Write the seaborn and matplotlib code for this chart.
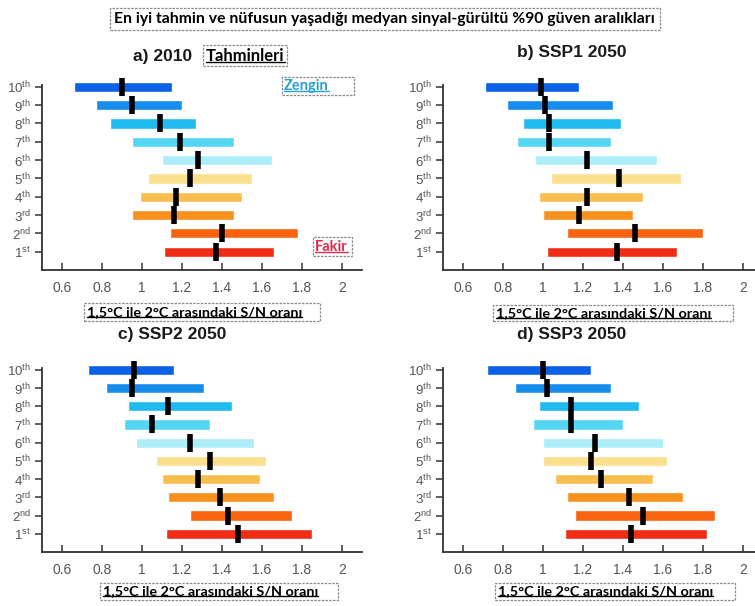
import numpy as np
import pandas as pd
import seaborn as sns
import matplotlib.pyplot as plt
from matplotlib.patches import Rectangle
from matplotlib.lines import Line2D

# deciles, poorest (1st) to richest (10th)
deciles = ['1st', '2nd', '3rd', '4th', '5th', '6th', '7th', '8th', '9th', '10th']
tick_labels = [r'$\mathregular{1^{st}}$', r'$\mathregular{2^{nd}}$', r'$\mathregular{3^{rd}}$',
               r'$\mathregular{4^{th}}$', r'$\mathregular{5^{th}}$', r'$\mathregular{6^{th}}$',
               r'$\mathregular{7^{th}}$', r'$\mathregular{8^{th}}$', r'$\mathregular{9^{th}}$',
               r'$\mathregular{10^{th}}$']
decile_colors = ['#f02c14', '#f8640f', '#f8901e', '#f8be50', '#fadf8c',
                 '#aeeefa', '#55d6f4', '#1fbaf0', '#168ded', '#0a60e6']

panel_titles = ['a) 2010', 'b) SSP1 2050', 'c) SSP2 2050', 'd) SSP3 2050']

low_2010 = [1.11, 1.14, 0.95, 0.99, 1.03, 1.10, 0.95, 0.84, 0.77, 0.66]
high_2010 = [1.66, 1.78, 1.46, 1.50, 1.55, 1.65, 1.46, 1.27, 1.20, 1.15]
med_2010 = [1.37, 1.40, 1.16, 1.17, 1.24, 1.28, 1.19, 1.09, 0.95, 0.90]

low_ssp1 = [1.02, 1.12, 1.00, 0.98, 1.04, 0.96, 0.87, 0.90, 0.82, 0.71]
high_ssp1 = [1.67, 1.80, 1.45, 1.50, 1.69, 1.57, 1.34, 1.39, 1.35, 1.18]
med_ssp1 = [1.37, 1.46, 1.18, 1.22, 1.38, 1.22, 1.03, 1.03, 1.01, 0.99]

low_ssp2 = [1.12, 1.24, 1.13, 1.10, 1.07, 0.97, 0.91, 0.93, 0.82, 0.73]
high_ssp2 = [1.85, 1.75, 1.66, 1.59, 1.62, 1.56, 1.34, 1.45, 1.31, 1.16]
med_ssp2 = [1.48, 1.43, 1.39, 1.28, 1.34, 1.24, 1.05, 1.13, 0.95, 0.96]

low_ssp3 = [1.11, 1.16, 1.12, 1.06, 1.00, 1.00, 0.95, 0.98, 0.86, 0.72]
high_ssp3 = [1.82, 1.86, 1.70, 1.55, 1.62, 1.60, 1.40, 1.48, 1.34, 1.24]
med_ssp3 = [1.44, 1.50, 1.43, 1.29, 1.24, 1.26, 1.14, 1.14, 1.02, 1.00]

x_ticks = [0.6, 0.8, 1, 1.2, 1.4, 1.6, 1.8, 2]
x_tick_labels = ['0.6', '0.8', '1', '1.2', '1.4', '1.6', '1.8', '2']

main_title = 'En iyi tahmin ve nüfusun yaşadığı medyan sinyal-gürültü %90 güven aralıkları'
xlabel_text = '1,5°C ile 2°C arasındaki S/N oranı'

sns.set_theme(style='ticks')
plt.rcParams['font.family'] = ['Liberation Sans', 'DejaVu Sans']

W, H = 755, 606
fig = plt.figure(figsize=(W / 100, H / 100), dpi=100)


def fx(px):
    return px / W


def fy(py):
    return 1 - py / H


def dashed_box(x0, y0, x1, y1):
    fig.add_artist(Rectangle((fx(x0), fy(y1)), fx(x1) - fx(x0), fy(y0) - fy(y1),
                             transform=fig.transFigure, fill=False, lw=0.9,
                             ls=(0, (2, 1)), edgecolor='#8a8a8a'))


underlined = []


def box_text(x, y, s, size, color='black', underline=True):
    t = fig.text(fx(x), fy(y), s, ha='left', va='center', fontsize=size,
                 fontweight='bold', color=color, family=['Lato', 'DejaVu Sans'])
    if underline:
        underlined.append(t)
    return t


panels = [
    (low_2010, high_2010, med_2010, (42, 85, 362, 270)),
    (low_ssp1, high_ssp1, med_ssp1, (443, 85, 763, 270)),
    (low_ssp2, high_ssp2, med_ssp2, (42, 368, 362, 552)),
    (low_ssp3, high_ssp3, med_ssp3, (443, 368, 763, 552)),
]

for (low, high, med, (l, t, r, b)), title in zip(panels, panel_titles):
    ax = fig.add_axes([fx(l), fy(b), fx(r) - fx(l), fy(t) - fy(b)])
    df = pd.DataFrame({'decile': deciles, 'pos': np.arange(1, 11),
                       'low': low, 'high': high, 'median': med})
    ax.barh(df['pos'], df['high'] - df['low'], left=df['low'], height=0.56,
            color=decile_colors, clip_on=False, zorder=2)
    sns.scatterplot(data=df, x='median', y='pos', marker='|', s=150, linewidth=4,
                    color='black', ax=ax, zorder=3, clip_on=False, legend=False)
    ax.set_xlim(0.5, 2.1)
    ax.set_ylim(0, 10.1)
    ax.set_xticks(x_ticks)
    ax.set_xticklabels(x_tick_labels)
    ax.set_yticks(np.arange(1, 11))
    ax.set_yticklabels(tick_labels)
    ax.set_xlabel('')
    ax.set_ylabel('')
    ax.tick_params(axis='x', direction='in', length=5, width=1.1, colors='#333333',
                   labelcolor='#555555', labelsize=10, pad=8)
    ax.tick_params(axis='y', direction='out', length=5, width=1.1, colors='#333333',
                   labelcolor='#555555', labelsize=9.5, pad=3)
    sns.despine(ax=ax)
    for sp in ['left', 'bottom']:
        ax.spines[sp].set_linewidth(1.3)
        ax.spines[sp].set_color('#333333')
    ax.patch.set_alpha(0)

# panel titles
title_pos = [(163, 56), (572, 52), (172, 335), (572, 335)]
for title, (x, y) in zip(panel_titles, title_pos):
    fig.text(fx(x), fy(y), title, ha='center', va='center', fontsize=12.5,
             fontweight='bold', color='#1a1a1a')

# main title box
dashed_box(110, 8, 660, 30)
box_text(114, 19, main_title, 11.3, underline=False)

# "Tahminleri" box
dashed_box(203, 45, 287, 66)
box_text(206, 56, 'Tahminleri', 12)

# legend-like labels
dashed_box(282, 77, 354, 95)
box_text(284, 86, 'Zengin', 10.5, color='#2a9fd2')
dashed_box(313, 237, 352, 256)
box_text(315, 247, 'Fakir', 10.5, color='#e0284a')

# x-axis label boxes
for (x0, y0, x1, y1) in [(84, 303, 320, 321), (493, 305, 733, 321),
                         (100, 583, 338, 600), (495, 583, 735, 600)]:
    dashed_box(x0, y0, x1, y1)
    box_text(x0 + 3, (y0 + y1) / 2, xlabel_text, 10.4)

# underline the boxed texts
fig.canvas.draw()
renderer = fig.canvas.get_renderer()
for t in underlined:
    bb = t.get_window_extent(renderer).transformed(fig.transFigure.inverted())
    yline = bb.y0 + (bb.y1 - bb.y0) * 0.12
    fig.add_artist(Line2D([bb.x0, bb.x1], [yline, yline], transform=fig.transFigure,
                          color=t.get_color(), lw=1.0))

plt.savefig('out.png', dpi=100)
plt.close()
